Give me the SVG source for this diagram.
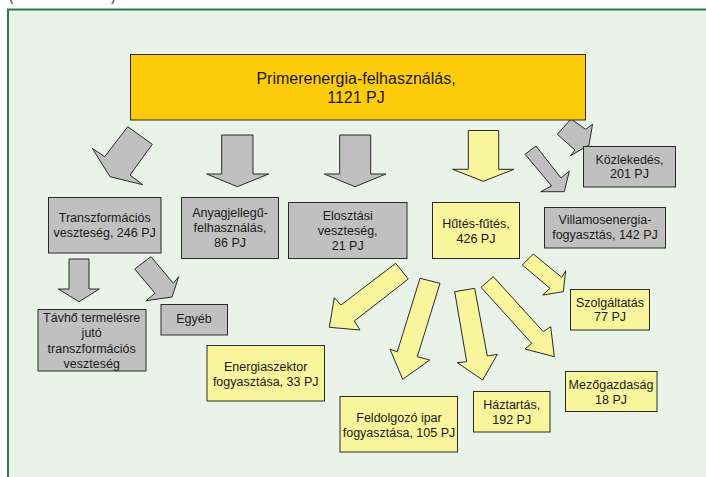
<svg xmlns="http://www.w3.org/2000/svg" width="706" height="477" viewBox="0 0 706 477">
<style>
  text { font-family: "Liberation Sans", Arial, sans-serif; fill: #1a1a1a; text-anchor: middle; }
  .t { font-size: 12.5px; }
  .big { font-size: 16px; }
  .g { fill: #C0C0C0; stroke: #2a2a2a; stroke-width: 1; }
  .y { fill: #F8F59C; stroke: #2a2a2a; stroke-width: 1; }
  .o { fill: #FECC0A; stroke: #2a2a2a; stroke-width: 1; }
  .a { stroke-linejoin: miter; }
</style>
<rect x="0" y="0" width="706" height="477" fill="#ffffff"/>
<text x="9" y="1" style="font-size:13px;text-anchor:start">(</text>
<text x="111" y="1" style="font-size:13px;text-anchor:start">)</text>
<rect x="8" y="9.5" width="720" height="500" fill="#E9F3E7" stroke="#2F7A4A" stroke-width="2"/>

<g id="connectors">
  <!-- gray arrows -->
  <polygon class="g a" points="127.7,126.7 152.3,144.3 130,175 142.7,184.7 110,176.7 92.3,148.3 104.7,156.7"/>
  <polygon class="g a" points="221.7,135 253,135 253,174 268.7,174 237.3,186.7 206.7,174 221.7,174"/>
  <polygon class="g a" points="339.7,135 370.7,135 370.7,174 386,174 355,186.7 324.3,174 339.7,174"/>
  <polygon class="g a" points="571,119 585.7,129.3 592.5,124.3 589,145 570.5,155.7 575,150 557.3,134.3"/>
  <polygon class="g a" points="536,146 561,178 569.3,171 564.3,191.7 540.7,191.7 551.7,186 525,154.3"/>
  <polygon class="g a" points="69,259 89,259 89,289 99.3,289 79,301.7 58.3,289 69,289"/>
  <polygon class="g a" points="151,256.7 173.3,283.3 178.7,276.7 172,297 146,300.7 155,293.3 134.7,269"/>
  <!-- yellow arrows -->
  <polygon class="y a" points="468.3,130.5 498.7,130.5 498.7,169.3 514,169.3 483.3,181.3 452.7,169.3 468.3,169.3"/>
  <polygon class="y a" points="395.7,263.3 408.3,279 354.3,321 360,330 329.3,327.3 334.3,297.7 341,305"/>
  <polygon class="y a" points="420,278.3 440,283.3 417.3,356.7 429.7,360 402.7,379.3 390,349.3 397.3,351.7"/>
  <polygon class="y a" points="454.7,291.7 474.7,288.3 487.3,356 497.3,354.3 482.7,380 457.3,362.7 466.7,361.7"/>
  <polygon class="y a" points="481,287.3 493.3,276.7 543.3,331.7 550.7,326.7 554.3,356.7 525,349 531.7,343.3"/>
  <polygon class="y a" points="522.3,265 533.3,254 561.7,277.3 565.7,270.7 563.3,291.7 542.7,295 550,288.3"/>
</g>

<g id="primer">
  <rect class="o" x="130.5" y="54.5" width="455" height="65.5"/>
  <text class="big" x="356" y="84">Primerenergia-felhasználás,</text>
  <text class="big" x="356" y="103">1121 PJ</text>
</g>

<g id="transzformacios">
  <rect class="g" x="48.5" y="197.5" width="112.5" height="55.5"/>
  <text class="t" x="104.7" y="221.5">Transzformációs</text>
  <text class="t" x="104.7" y="236.5">veszteség, 246 PJ</text>
</g>

<g id="anyagjellegu">
  <rect class="g" x="181.5" y="197.5" width="97" height="61"/>
  <text class="t" x="230" y="217">Anyagjellegű-</text>
  <text class="t" x="230" y="232">felhasználás,</text>
  <text class="t" x="230" y="246.5">86 PJ</text>
</g>

<g id="elosztasi">
  <rect class="g" x="288.5" y="202.5" width="118.5" height="56"/>
  <text class="t" x="347.7" y="220">Elosztási</text>
  <text class="t" x="347.7" y="235">veszteség,</text>
  <text class="t" x="347.7" y="249.5">21 PJ</text>
</g>

<g id="hutes">
  <rect class="y" x="432.5" y="202.5" width="87" height="56"/>
  <text class="t" x="476" y="228.3">Hűtés-fűtés,</text>
  <text class="t" x="476" y="242.5">426 PJ</text>
</g>

<g id="kozlekedes">
  <rect class="g" x="583.5" y="146.5" width="92" height="40.5"/>
  <text class="t" x="629.5" y="163.5">Közlekedés,</text>
  <text class="t" x="629.5" y="178">201 PJ</text>
</g>

<g id="villamos">
  <rect class="g" x="544.5" y="207.5" width="121" height="40.5"/>
  <text class="t" x="605" y="224">Villamosenergia-</text>
  <text class="t" x="605" y="239.3">fogyasztás, 142 PJ</text>
</g>

<g id="tavho">
  <rect class="g" x="38" y="309.5" width="108" height="61.5"/>
  <text class="t" x="91.7" y="321.7">Távhő termelésre</text>
  <text class="t" x="91.7" y="336.7">jutó</text>
  <text class="t" x="91.7" y="352.5">transzformációs</text>
  <text class="t" x="91.7" y="367.7">veszteség</text>
</g>

<g id="egyeb">
  <rect class="g" x="161" y="304.5" width="66.5" height="30.5"/>
  <text class="t" x="194" y="323.3">Egyéb</text>
</g>

<g id="energiaszektor">
  <rect class="y" x="207" y="345.5" width="117.5" height="55.5"/>
  <text class="t" x="265.7" y="371">Energiaszektor</text>
  <text class="t" x="265.7" y="385.7">fogyasztása, 33 PJ</text>
</g>

<g id="feldolgozo">
  <rect class="y" x="340" y="396.5" width="117.5" height="55.5"/>
  <text class="t" x="399" y="421.7">Feldolgozó ipar</text>
  <text class="t" x="399" y="436.7">fogyasztása, 105 PJ</text>
</g>

<g id="haztartas">
  <rect class="y" x="473.5" y="391.5" width="76.5" height="40.5"/>
  <text class="t" x="511.7" y="409.3">Háztartás,</text>
  <text class="t" x="511.7" y="424">192 PJ</text>
</g>

<g id="szolgaltatas">
  <rect class="y" x="570.5" y="289.5" width="79" height="40.5"/>
  <text class="t" x="610" y="306.7">Szolgáltatás</text>
  <text class="t" x="610" y="321.3">77 PJ</text>
</g>

<g id="mezogazdasag">
  <rect class="y" x="565.5" y="371.5" width="91.5" height="40"/>
  <text class="t" x="611" y="389.3">Mezőgazdaság</text>
  <text class="t" x="611" y="403.7">18 PJ</text>
</g>
</svg>
